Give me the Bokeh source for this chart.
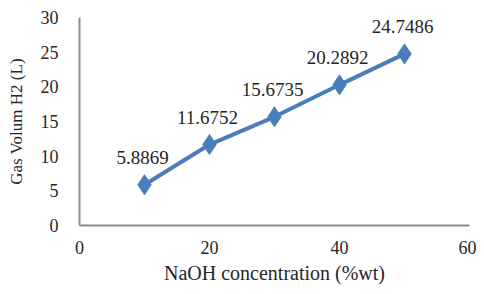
from bokeh.plotting import figure
from bokeh.models import ColumnDataSource, LabelSet, Range1d, FixedTicker
from bokeh.embed import file_html
from bokeh.resources import INLINE

concentration = [10, 20, 30, 40, 50]
volume = [5.8869, 11.6752, 15.6735, 20.2892, 24.7486]
labels = ["5.8869", "11.6752", "15.6735", "20.2892", "24.7486"]
x_ticks = [0, 20, 40, 60]
y_ticks = [0, 5, 10, 15, 20, 25, 30]

FONT = "Liberation Serif"
BLUE = "#4a7ebb"
GRAY = "#8c8c8c"
TXT = "#262626"

src = ColumnDataSource(dict(x=concentration, y=volume, t=labels))

p = figure(width=476, height=286, output_backend="svg", toolbar_location=None,
           x_range=Range1d(0, 60), y_range=Range1d(0, 30),
           min_border_left=79, min_border_right=7, min_border_top=17, min_border_bottom=60)
p.outline_line_color = None
p.grid.visible = False
p.background_fill_color = "white"

p.line("x", "y", source=src, line_color=BLUE, line_width=4)
p.scatter("x", "y", source=src, marker="diamond", size=20, fill_color=BLUE, line_color=BLUE)

lab = LabelSet(x="x", y="y", text="t", source=src, x_offset=-2, y_offset=21,
               text_align="center", text_baseline="bottom", text_font=FONT,
               text_font_size="19px", text_color=TXT)
p.add_layout(lab)

for ax in (p.xaxis[0], p.yaxis[0]):
    ax.axis_line_color = GRAY
    ax.axis_line_width = 2
    ax.major_tick_line_color = None
    ax.minor_tick_line_color = None
    ax.major_label_text_font = FONT
    ax.major_label_text_font_size = "18px"
    ax.major_label_text_color = TXT
    ax.axis_label_text_font = FONT
    ax.axis_label_text_font_style = "normal"
    ax.axis_label_text_color = TXT

p.xaxis.axis_label_text_font_size = "20px"
p.yaxis.axis_label_text_font_size = "17px"
p.xaxis.ticker = FixedTicker(ticks=x_ticks)
p.yaxis.ticker = FixedTicker(ticks=y_ticks)
p.xaxis.axis_label = "NaOH concentration (%wt)"
p.yaxis.axis_label = "Gas Volum H2 (L)"
p.xaxis.major_label_standoff = 9
p.yaxis.major_label_standoff = 15
p.xaxis.axis_label_standoff = 5
p.yaxis.axis_label_standoff = 12

open("out.html", "w").write(file_html(p, INLINE))
